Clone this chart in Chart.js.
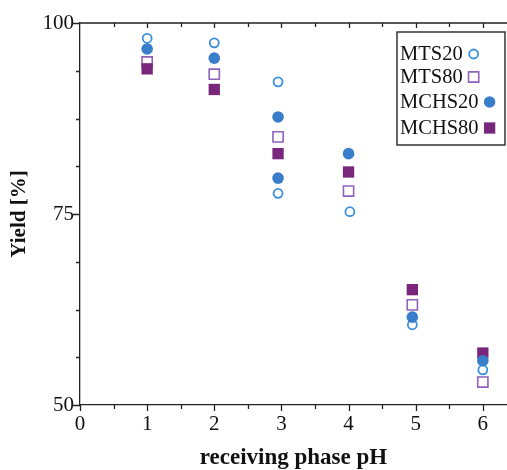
<!DOCTYPE html>
<html>
<head>
<meta charset="utf-8">
<script src="https://cdn.jsdelivr.net/npm/chart.js@4"></script>
<style>
html,body{margin:0;padding:0;background:#fff;}
#wrap{width:507px;height:470px;position:relative;}
</style>
</head>
<body>
<div id="wrap"><canvas id="c" width="507" height="470"></canvas></div>
<script>
// ---- data ----
const seriesNames = ["MTS20", "MTS80", "MCHS20", "MCHS80"];
const mts20 = [{x:1,y:98.0},{x:2,y:97.4},{x:2.95,y:92.3},{x:2.95,y:77.7},{x:4.02,y:75.3},{x:4.95,y:60.5},{x:6.0,y:54.6}];
const mts80 = [{x:1,y:94.9},{x:2,y:93.3},{x:2.95,y:85.1},{x:4.0,y:78.0},{x:4.95,y:63.1},{x:6.0,y:53.0}];
const mchs20 = [{x:1,y:96.6},{x:2,y:95.4},{x:2.95,y:87.7},{x:2.95,y:79.7},{x:4.0,y:82.9},{x:4.95,y:61.5},{x:6.0,y:55.8}];
const mchs80 = [{x:1,y:94.0},{x:2,y:91.3},{x:2.95,y:82.9},{x:4.0,y:80.5},{x:4.95,y:65.1},{x:6.0,y:56.8}];
const xTicks = [0,0.5,1,1.5,2,2.5,3,3.5,4,4.5,5,5.5,6];
const xTickLabels = ["0","","1","","2","","3","","4","","5","","6"];
const yTicks = [50,56.25,62.5,68.75,75,81.25,87.5,93.75,100];
const yTickLabels = ["50","","","","75","","","","100"];
const xTitle = "receiving phase pH";
const yTitle = "Yield [%]";

const SERIF = "'Liberation Serif','Times New Roman',serif";
const AXIS = '#222';

const framePlugin = {
  id: 'frame',
  afterDraw(chart) {
    const {ctx, chartArea: a, scales: {x, y}} = chart;
    ctx.save();
    ctx.strokeStyle = AXIS;
    ctx.lineWidth = 1.3;
    ctx.beginPath();
    ctx.moveTo(a.left, a.top); ctx.lineTo(a.right, a.top);
    xTicks.forEach((v, i) => {
      const px = Math.round(x.getPixelForValue(v)) + 0.5;
      const major = xTickLabels[i] !== "";
      if (v > 0) { ctx.moveTo(px, a.top); ctx.lineTo(px, a.top + (major ? 5 : 4)); }
      ctx.moveTo(px, a.bottom); ctx.lineTo(px, a.bottom + (major ? 6 : 4));
    });
    yTicks.forEach((v, i) => {
      const py = Math.round(y.getPixelForValue(v)) + 0.5;
      const major = yTickLabels[i] !== "";
      ctx.moveTo(a.left, py); ctx.lineTo(a.left - (major ? 8 : 4), py);
    });
    ctx.stroke();

    // legend
    const bx = 397, by = 32, bw = 108, bh = 113;
    ctx.fillStyle = '#fff';
    ctx.fillRect(bx, by, bw, bh);
    ctx.strokeStyle = '#333';
    ctx.lineWidth = 1.5;
    ctx.strokeRect(bx, by, bw, bh);
    ctx.font = '20.5px ' + SERIF;
    ctx.textBaseline = 'middle';
    ctx.fillStyle = '#111';
    const rows = [54, 77, 102, 128];
    chart.data.datasets.forEach((ds, i) => {
      const ty = rows[i];
      ctx.fillText(ds.label, bx + 3, ty + 1);
      const w = ctx.measureText(ds.label).width;
      const mx = bx + 3 + w + 11;
      ctx.save();
      ctx.lineWidth = ds.borderWidth;
      ctx.strokeStyle = ds.borderColor;
      ctx.fillStyle = ds.backgroundColor;
      ctx.beginPath();
      if (ds.pointStyle === 'circle') {
        ctx.arc(mx, ty, ds.pointRadius, 0, Math.PI * 2);
      } else {
        const s = Math.SQRT1_2 * ds.pointRadius;
        ctx.rect(mx - s, ty - s, 2 * s, 2 * s);
      }
      ctx.fill();
      if (ds.borderWidth > 0) ctx.stroke();
      ctx.restore();
    });
    ctx.restore();
  }
};

new Chart(document.getElementById('c'), {
  type: 'scatter',
  data: {
    datasets: [
      {label: seriesNames[0], data: mts20, pointStyle: 'circle', pointRadius: 4.5, borderWidth: 1.8,
       borderColor: '#3b8fdc', backgroundColor: '#ffffff', order: 1},
      {label: seriesNames[1], data: mts80, pointStyle: 'rect', pointRadius: 7.2, borderWidth: 1.6,
       borderColor: '#8f62bd', backgroundColor: '#ffffff', order: 1},
      {label: seriesNames[2], data: mchs20, pointStyle: 'circle', pointRadius: 5.8, borderWidth: 0,
       borderColor: '#3a7ecb', backgroundColor: '#3a7ecb', order: 0},
      {label: seriesNames[3], data: mchs80, pointStyle: 'rect', pointRadius: 8, borderWidth: 0,
       borderColor: '#78277a', backgroundColor: '#78277a', order: 0}
    ]
  },
  options: {
    responsive: false,
    animation: false,
    devicePixelRatio: 1,
    layout: {autoPadding: false, padding: {left: 0, right: 0, top: 23, bottom: 0}},
    plugins: {legend: {display: false}, tooltip: {enabled: false}},
    elements: {point: {hoverRadius: 0}},
    scales: {
      x: {
        type: 'linear', min: 0, max: 6.36,
        afterBuildTicks: s => { s.ticks = xTicks.map(v => ({value: v})); },
        afterFit: s => { s.height = 65; s.paddingLeft = 0; s.paddingRight = 0; },
        grid: {display: false},
        border: {display: true, color: AXIS, width: 1.3},
        ticks: {
          color: '#111', padding: 1, maxRotation: 0, autoSkip: false,
          font: {family: SERIF, size: 21, lineHeight: 1},
          callback: (v, i) => xTickLabels[i]
        },
        title: {display: true, text: xTitle, color: '#111', padding: {top: 0, bottom: 0},
          font: {family: SERIF, size: 23, weight: 'bold', lineHeight: 1}}
      },
      y: {
        type: 'linear', min: 50, max: 100,
        afterBuildTicks: s => { s.ticks = yTicks.map(v => ({value: v})); },
        afterFit: s => { s.width = 80; s.paddingTop = 0; s.paddingBottom = 0; },
        grid: {display: false},
        border: {display: true, color: AXIS, width: 1.3},
        ticks: {
          color: '#111', padding: -2, autoSkip: false,
          font: {family: SERIF, size: 21, lineHeight: 1},
          callback: (v, i) => yTickLabels[i]
        },
        title: {display: true, text: yTitle, color: '#111', padding: {top: 9, bottom: 0},
          font: {family: SERIF, size: 21, weight: 'bold', lineHeight: 1}}
      }
    }
  },
  plugins: [framePlugin]
});
</script>
</body>
</html>
